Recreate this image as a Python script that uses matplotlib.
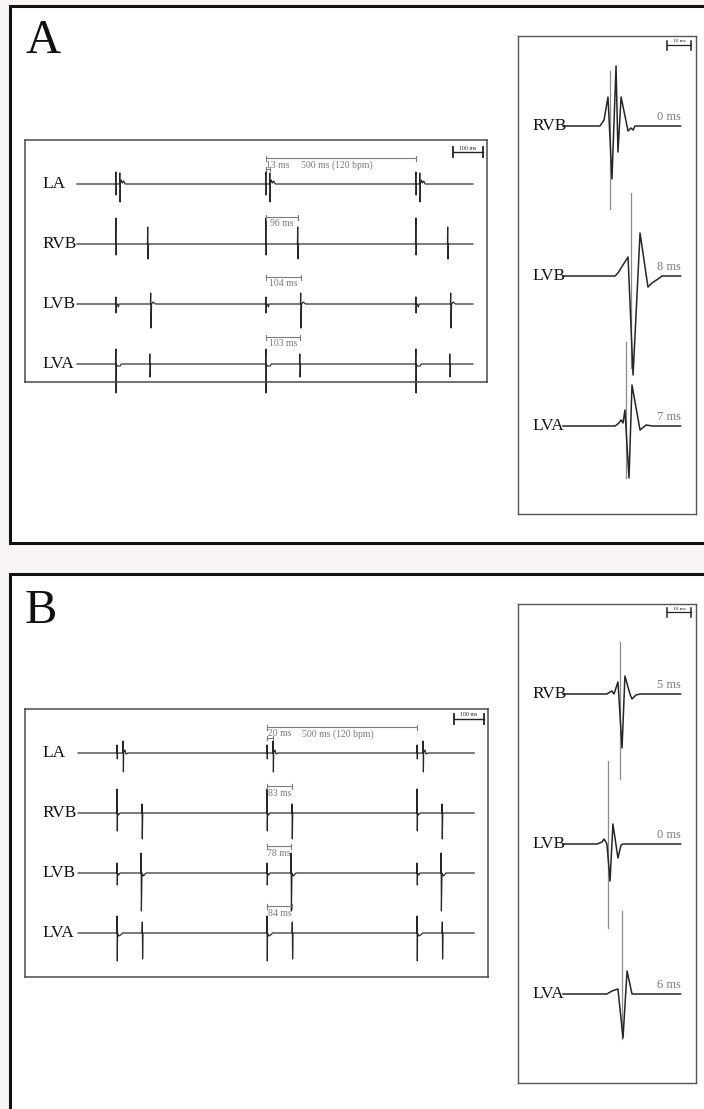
import matplotlib
matplotlib.use("Agg")
import matplotlib.pyplot as plt
from matplotlib.patches import Rectangle
from matplotlib.transforms import blended_transform_factory

W, H = 704, 1109
BG = "#f9f5f4"
INK = "#262626"
GREY = "#7c7c7c"

plt.rcParams["font.family"] = ["Liberation Serif", "DejaVu Serif"]

# ---------------- data ----------------
leads = ["LA", "RVB", "LVB", "LVA"]
zoom_leads = ["RVB", "LVB", "LVA"]
beat_times = [130, 630, 1130]      # paced beats in the strip (ms)
strip_len = 1320                   # ms shown in each strip

# strip shapes: (ms relative to event, amplitude) for pacing artefact and local activation
pace_A = {
    "LA": ([-1, 0, 0.7, 1.5], [0, 12, -11, 0]),
    "RVB": ([-1, 0, 0.7, 1.5], [0, 26, -11, 0]),
    "LVB": ([-1, 0, 0.7, 1.5, 5, 8, 11], [0, 7, -9, 0, 0, -3, 0]),
    "LVA": ([-1, 0, 0.7, 1.5, 4, 14, 18], [0, 15, -29, 0, -2, -2, 0]),
}
act_A = {
    "LA": ([-1, 0, 1, 2, 5, 9, 13, 18, 25], [0, 11, -18, 0, 4, 1, 3, 0, 0]),
    "RVB": ([-1, 0, 1, 2.5], [0, 17, -15, 0]),
    "LVB": ([-1, 0, 1, 3, 8, 16], [0, 11, -24, 0, 2, 0]),
    "LVA": ([-1, 0, 1, 2.5], [0, 10, -13, 0]),
}
delay_A = [13, 106, 116, 113]
interval_A = ["13 ms", "96 ms", "104 ms", "103 ms"]

pace_B = {
    "LA": ([-1, 0, 0.7, 1.5], [0, 8, -6, 0]),
    "RVB": ([-1, 0, 0.7, 1.5, 4, 10], [0, 24, -18, 0, -2, 0]),
    "LVB": ([-1, 0, 0.7, 1.5, 5, 10], [0, 10, -12, 0, -2, 0]),
    "LVA": ([-1, 0, 0.7, 1.5, 5, 12, 18], [0, 17, -28, 0, -3, -2, 0]),
}
act_B = {
    "LA": ([-1, 0, 1, 2, 6, 10, 16], [0, 12, -19, 0, 3, -1, 0]),
    "RVB": ([-1, 0, 1, 2.5], [0, 9, -26, 0]),
    "LVB": ([-1, 0, 1, 3, 8, 16], [0, 20, -38, 0, -3, 0]),
    "LVA": ([-1, 0, 1, 2.5], [0, 11, -26, 0]),
}
delay_B = [20, 83, 80, 84]
interval_B = ["20 ms", "83 ms", "78 ms", "84 ms"]

# zoomed electrograms (ms from trace start, amplitude) + stimulus line (ms, top, bottom)
zoom_A = {
    "RVB": ([0, 15.4, 17.1, 18.75, 20.4, 22.1, 22.9, 24.2, 27.1, 28.3, 29.2, 30, 49],
            [0, 0, 6, 29, -53, 60, -26, 29, -5, -2, -4, 0, 0]),
    "LVB": ([0, 21.7, 22.9, 24.2, 27.1, 29.2, 32.1, 35.4, 37.1, 38.3, 39.6, 41.25, 49],
            [0, 0, 3, 8, 19, -99, 43, -11, -7, -5, -3, 0, 0]),
    "LVA": ([0, 21.7, 23.3, 24.2, 25, 25.8, 27.5, 28.75, 32.1, 34.6, 37.1, 49],
            [0, 0, 3, 6, 3, 16, -52, 41, -4, 1, 0, 0]),
}
stim_A = {"RVB": (19.6, 55, -83), "LVB": (28.3, 83, -92), "LVA": (26.25, 84, -52)}
zoom_delay_A = ["0 ms", "8 ms", "7 ms"]

zoom_B = {
    "RVB": ([0, 18.3, 19.6, 20.4, 21.25, 22.9, 24.6, 25.8, 27.9, 28.75, 30.4, 32.1, 49],
            [0, 0, 2, 3, 0, 12, -54, 18, 0, -5, -1, 0, 0]),
    "LVB": ([0, 14.2, 16.25, 17.1, 18.3, 19.6, 20.8, 22.9, 24.2, 25, 49],
            [0, 0, 2, 5, 0, -37, 20, -14, -1, 0, 0]),
    "LVA": ([0, 18.3, 20.4, 22.9, 25, 26.7, 28.75, 49],
            [0, 0, 3, 5, -44, 23, 0, 0]),
}
stim_B = {"RVB": (23.75, 52, -85), "LVB": (18.75, 83, -84), "LVA": (24.6, 83, -45)}
zoom_delay_B = ["5 ms", "0 ms", "6 ms"]


def px_axes(fig, x0, y0, x1, y1):
    return fig.add_axes([x0 / W, 1 - y1 / H, (x1 - x0) / W, (y1 - y0) / H])


def build_strip(pace, act, delay):
    t, a = [0], [0]
    for b in beat_times:
        t += [b + v for v in pace[0]]
        a += list(pace[1])
        t += [b + delay + v for v in act[0]]
        a += list(act[1])
    t.append(strip_len)
    a.append(0)
    return t, a


def draw_strip(ax, pace, act, delays, intervals, x0_ms, height, bar_y):
    ms_per_px = 1 / 0.3
    ax.set_xlim(x0_ms, x0_ms + ax_w_px[ax] * ms_per_px)
    ax.set_ylim(height, 0)
    ax.set_xticks([])
    ax.set_yticks([])
    for s in ax.spines.values():
        s.set_color("#4a4a4a")
        s.set_linewidth(1.1)
    lab_tr = blended_transform_factory(ax.transAxes, ax.transData)
    rows = [44, 104, 164, 224]
    b2, b3 = beat_times[1], beat_times[2]
    for i, lead in enumerate(leads):
        t, a = build_strip(pace[lead], act[lead], delays[i])
        base = rows[i]
        ax.plot(t, [base - v for v in a], color=INK, lw=0.85, clip_on=False)
        ax.text(17 / ax_w_px[ax], base, lead, transform=lab_tr, fontsize=12.5,
                va="center", ha="left", color="#111111")
        if i == 0:
            # 500 ms cycle bracket + LA delay bracket
            yb = 18
            ax.plot([b2, b3], [yb, yb], color=GREY, lw=0.8)
            for xx in (b2, b3):
                ax.plot([xx, xx], [yb - 2.5, yb + 2.5], color=GREY, lw=0.8)
            ax.text(b2 + 0.47 * (b3 - b2), yb + 7, "500 ms (120 bpm)", fontsize=7,
                    color=GREY, ha="center", va="center")
            yd = 29
            ax.plot([b2, b2 + delays[0]], [yd, yd], color=GREY, lw=0.8)
            for xx in (b2, b2 + delays[0]):
                ax.plot([xx, xx], [yd - 2, yd + 2], color=GREY, lw=0.8)
            ax.text(b2 + 2, yb + 7, intervals[0], fontsize=7, color=GREY,
                    ha="left", va="center")
        else:
            yb = base - 27
            ax.plot([b2, b2 + delays[i]], [yb, yb], color=GREY, lw=0.8)
            for xx in (b2, b2 + delays[i]):
                ax.plot([xx, xx], [yb - 2.5, yb + 2.5], color=GREY, lw=0.8)
            ax.text(b2 + delays[i] / 2, yb + 7, intervals[i], fontsize=7,
                    color=GREY, ha="center", va="center")
    # 100 ms scale bar
    sb0, sb1 = 1252, 1352
    ax.plot([sb0, sb1], [bar_y, bar_y], color="#222222", lw=1.0)
    for xx in (sb0, sb1):
        ax.plot([xx, xx], [bar_y - 5, bar_y + 5], color="#222222", lw=1.3)
    ax.text((sb0 + sb1) / 2, bar_y - 1.5, "100 ms", fontsize=4.2, ha="center",
            va="bottom", color="#222222")


def draw_zoom(ax, traces, stims, delays, bar_y):
    ms_per_px = 1 / 2.4
    ax.set_xlim(-18.75, -18.75 + ax_w_px[ax] * ms_per_px)
    ax.set_ylim(ax_h_px[ax], 0)
    ax.set_xticks([])
    ax.set_yticks([])
    for s in ax.spines.values():
        s.set_color("#555555")
        s.set_linewidth(1.0)
    lab_tr = blended_transform_factory(ax.transAxes, ax.transData)
    rows = [90, 240, 390]
    for i, lead in enumerate(zoom_leads):
        base = rows[i]
        t, a = traces[lead]
        st, top, bot = stims[lead]
        ax.plot([st, st], [base - top, base - bot], color="#8c8c8c", lw=0.9)
        ax.plot(t, [base - v for v in a], color=INK, lw=1.1)
        ax.text(14 / ax_w_px[ax], base, lead, transform=lab_tr, fontsize=12.5,
                va="center", ha="left", color="#111111")
        ax.text(t[-1], base - 3, delays[i], fontsize=9, color=GREY,
                ha="right", va="bottom")
    sb0, sb1 = 43.3, 53.3
    ax.plot([sb0, sb1], [bar_y, bar_y], color="#222222", lw=0.9)
    for xx in (sb0, sb1):
        ax.plot([xx, xx], [bar_y - 4.5, bar_y + 4.5], color="#222222", lw=1.1)
    ax.text((sb0 + sb1) / 2, bar_y - 1.5, "10 ms", fontsize=3.8, ha="center",
            va="bottom", color="#222222")


fig = plt.figure(figsize=(W / 100, H / 100), dpi=100)
fig.patch.set_facecolor(BG)

bg = fig.add_axes([0, 0, 1, 1])
bg.set_xlim(0, W)
bg.set_ylim(H, 0)
bg.axis("off")
# outer panel frames (run past the right/bottom edge as in the original)
bg.add_patch(Rectangle((10, 6), 720, 537, facecolor="white", edgecolor="#111111", lw=2.2))
bg.add_patch(Rectangle((10, 574), 720, 560, facecolor="white", edgecolor="#111111", lw=2.2))
bg.text(25, 53, "A", fontsize=35, color="#111111", ha="left", va="baseline")
bg.text(25, 623, "B", fontsize=35, color="#111111", ha="left", va="baseline")

ax_w_px, ax_h_px = {}, {}
boxes = {
    "A_strip": (25, 140, 487, 382),
    "A_zoom": (518, 36, 696, 514),
    "B_strip": (25, 709, 488, 977),
    "B_zoom": (518, 604, 696, 1083),
}
axes = {}
for key, (x0, y0, x1, y1) in boxes.items():
    ax = px_axes(fig, x0, y0, x1, y1)
    ax_w_px[ax] = x1 - x0
    ax_h_px[ax] = y1 - y0
    axes[key] = ax

draw_strip(axes["A_strip"], pace_A, act_A, delay_A, interval_A, -173, 242, 12)
draw_strip(axes["B_strip"], pace_B, act_B, delay_B, interval_B, -177, 268, 10)
draw_zoom(axes["A_zoom"], zoom_A, stim_A, zoom_delay_A, 9)
draw_zoom(axes["B_zoom"], zoom_B, stim_B, zoom_delay_B, 8)

fig.savefig("out.png", dpi=100, facecolor=fig.get_facecolor())
